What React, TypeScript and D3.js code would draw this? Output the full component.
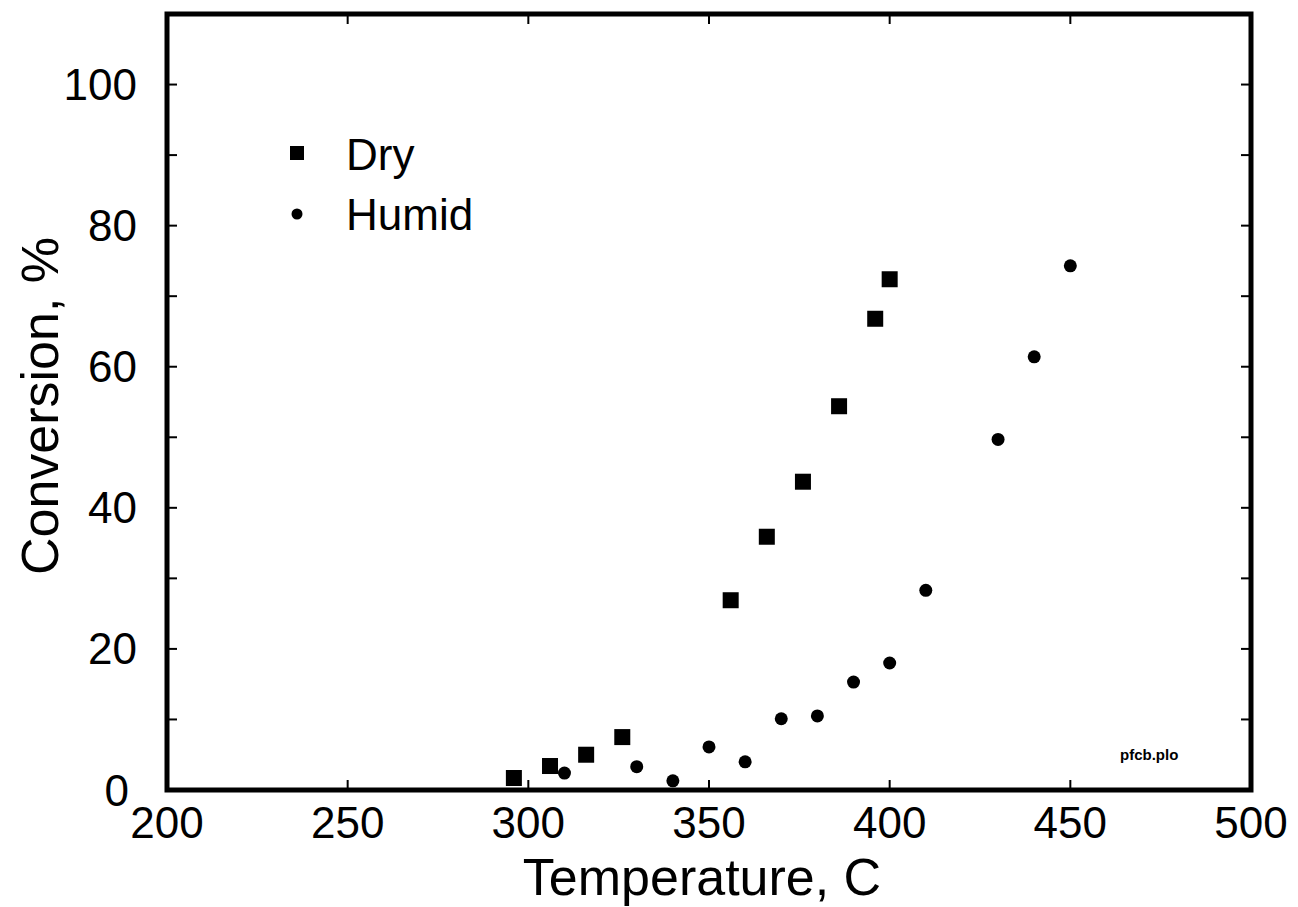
import React from "react";
import * as d3 from "d3";

const dryTemp = [296, 306, 316, 326, 356, 366, 376, 386, 396, 400];
const dryConv = [1.7, 3.4, 5.0, 7.5, 26.9, 35.9, 43.7, 54.4, 66.8, 72.4];
const humidTemp = [310, 330, 340, 350, 360, 370, 380, 390, 400, 410, 430, 440, 450];
const humidConv = [2.4, 3.3, 1.3, 6.1, 4.0, 10.1, 10.5, 15.3, 18.0, 28.3, 49.7, 61.4, 74.3];
const xTickLabels = [200, 250, 300, 350, 400, 450, 500];
const yTickLabels = [0, 20, 40, 60, 80, 100];
const yMinorTicks = [10, 20, 30, 40, 50, 60, 70, 80, 90, 100];
const xInnerTicks = [250, 300, 350, 400, 450];
const legendItems = ["Dry", "Humid"];

const FONT = "'Liberation Sans', Arial, sans-serif";

export default function App() {
  const left = 167, right = 1251, top = 14, bottom = 790;
  const x = d3.scaleLinear().domain([200, 500]).range([left, right]);
  const y = d3.scaleLinear().domain([0, 110]).range([bottom, top]);
  const tickLen = 10;
  const sq = 16;
  const cr = 6.5;

  return (
    <svg
      width={1298}
      height={907}
      style={{ position: "absolute", left: 0, top: 0, background: "#fff" }}
      fontFamily={FONT}
    >
      <rect x={0} y={0} width={1298} height={907} fill="#fff" />
      {/* ticks */}
      {xInnerTicks.map((t) => (
        <g key={"xt" + t} stroke="#000" strokeWidth={2}>
          <line x1={x(t)} x2={x(t)} y1={y(0)} y2={y(0) - tickLen} />
          <line x1={x(t)} x2={x(t)} y1={y(110)} y2={y(110) + tickLen} />
        </g>
      ))}
      {yMinorTicks.map((t) => (
        <g key={"yt" + t} stroke="#000" strokeWidth={2}>
          <line x1={x(200)} x2={x(200) + tickLen} y1={y(t)} y2={y(t)} />
          <line x1={x(500)} x2={x(500) - tickLen} y1={y(t)} y2={y(t)} />
        </g>
      ))}
      {/* frame */}
      <rect
        x={x(200)}
        y={y(110)}
        width={x(500) - x(200)}
        height={y(0) - y(110)}
        fill="none"
        stroke="#000"
        strokeWidth={5}
      />
      {/* tick labels */}
      {xTickLabels.map((t) => (
        <text key={"xl" + t} x={x(t)} y={838} fontSize={44} textAnchor="middle" fill="#000">
          {t}
        </text>
      ))}
      {yTickLabels.map((t) => (
        <text
          key={"yl" + t}
          x={t === 0 ? 129 : 137}
          y={y(t) + 15.5}
          fontSize={44}
          textAnchor="end"
          fill="#000"
        >
          {t}
        </text>
      ))}
      {/* axis titles */}
      <text x={(left + right) / 2 - 7} y={895} fontSize={52} textAnchor="middle" fill="#000">
        Temperature, C
      </text>
      <text
        transform={`translate(58, ${(top + bottom) / 2 + 4}) rotate(-90)`}
        fontSize={52}
        textAnchor="middle"
        fill="#000"
      >
        Conversion, %
      </text>
      {/* data */}
      {dryTemp.map((t, i) => (
        <rect
          key={"d" + i}
          x={x(t) - sq / 2}
          y={y(dryConv[i]) - sq / 2}
          width={sq}
          height={sq}
          fill="#000"
        />
      ))}
      {humidTemp.map((t, i) => (
        <circle key={"h" + i} cx={x(t)} cy={y(humidConv[i])} r={cr} fill="#000" />
      ))}
      {/* legend */}
      <rect x={297 - 7} y={153 - 7} width={14} height={14} fill="#000" />
      <circle cx={297} cy={214} r={5.5} fill="#000" />
      <text x={346} y={170} fontSize={44} fill="#000">
        {legendItems[0]}
      </text>
      <text x={346} y={230} fontSize={44} fill="#000">
        {legendItems[1]}
      </text>
      {/* file tag */}
      <text x={1120} y={760} fontSize={15} fontWeight="bold" fill="#000">
        pfcb.plo
      </text>
    </svg>
  );
}
